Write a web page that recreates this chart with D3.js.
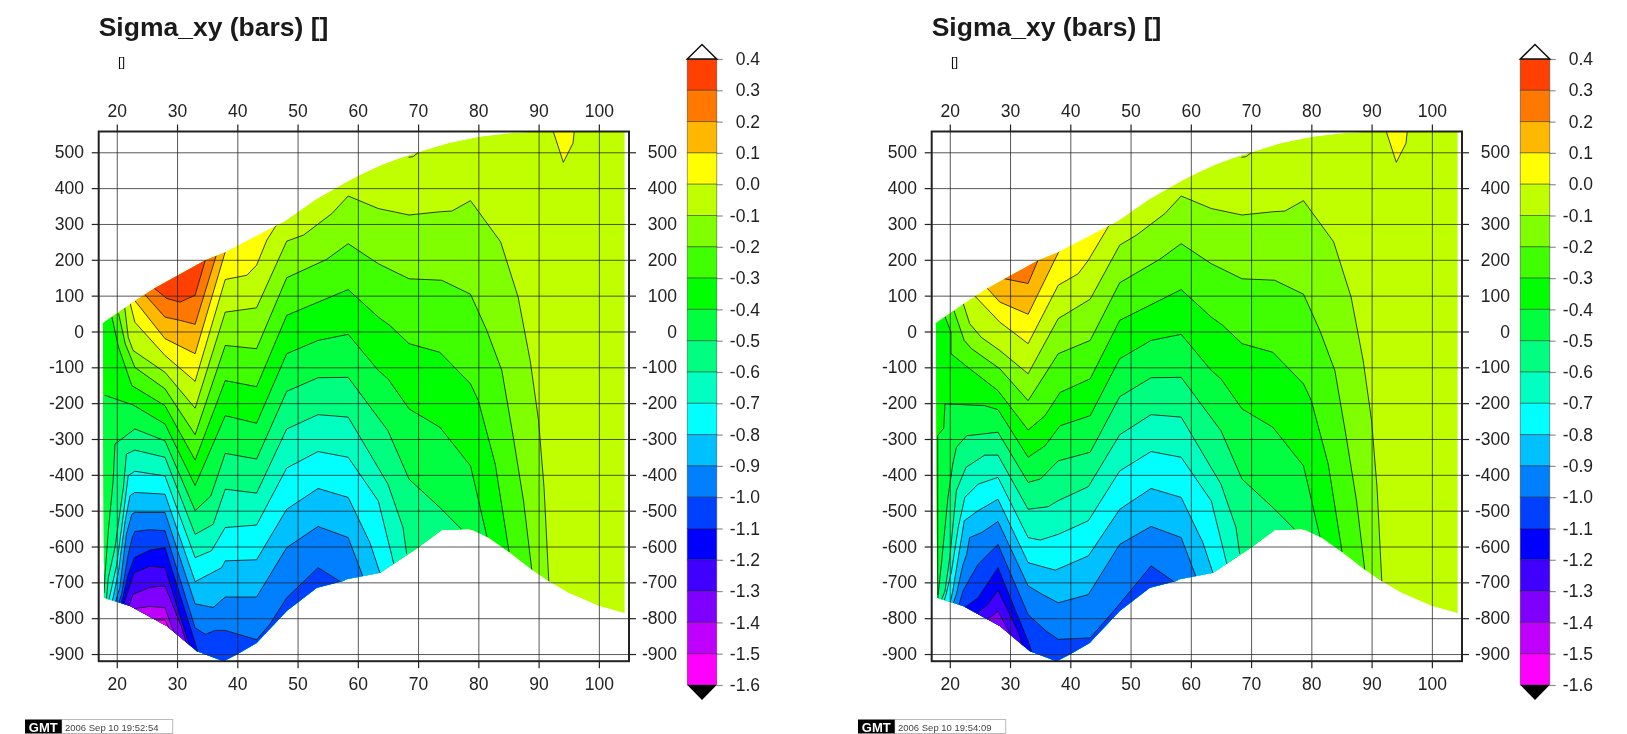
<!DOCTYPE html>
<html>
<head>
<meta charset="utf-8">
<title>Sigma_xy (bars)</title>
<script src="https://cdn.jsdelivr.net/npm/d3@7"></script>
<style>
    html, body { margin: 0; padding: 0; background: #fff; }
    /* the source is a soft, scanned looking image */
    svg { display: block; font-family: "Liberation Sans", Arial, sans-serif; filter: blur(.45px); }
    .axis text { font-size: 17.5px; fill: #222; }
    .axis line { stroke: #222; stroke-width: 1.2px; }
    .axis path { display: none; }
    .grid line { stroke: #222; stroke-width: 1px; stroke-opacity: .75; }
    .grid path { display: none; }
    .contour { fill: none; stroke: #111; stroke-width: 1px; stroke-opacity: .8; stroke-linejoin: round; }
</style>
</head>
<body>
<div id="chart"></div>
<script>
// colour table, top of the bar to the bottom
var barLevels = [0.4, 0.3, 0.2, 0.1, 0.0, -0.1, -0.2, -0.3, -0.4, -0.5, -0.6, -0.7, -0.8, -0.9, -1.0, -1.1, -1.2, -1.3, -1.4, -1.5, -1.6];
var bandColors = ["#ff4000", "#ff7800", "#ffb800", "#ffff00", "#bfff00", "#80ff00", "#40ff00", "#00ff00", "#00ff40", "#00ff80",
    "#00ffc0", "#00ffff", "#00c0ff", "#0080ff", "#0040ff", "#0000ff", "#4000ff", "#8000ff", "#c000ff", "#ff00ff"];

var xTicks = [20, 30, 40, 50, 60, 70, 80, 90, 100];
var yTicks = [500, 400, 300, 200, 100, 0, -100, -200, -300, -400, -500, -600, -700, -800, -900];

// outline of the model, both plots use the same one
var domainEdge = [[17.7, 23], [22.7, 82], [26.2, 120], [34.6, 198], [38.1, 222], [43, 265], [47.9, 308], [53, 368], [56, 397], [58.4, 420], [61, 442], [64, 465], [67, 484], [70, 500],
    [75, 526], [80.3, 544], [85, 553], [90, 558], [104.3, 558], [104.3, -786], [100, -766], [95, -730], [91.6, -696], [88.9, -665], [85, -614], [81.7, -575],
    [79, -553], [78.3, -551], [73.9, -554], [70, -603], [63.7, -673], [58.1, -691], [57.6, -696], [53.2, -715], [48.2, -780], [43.2, -869], [39.9, -901],
    [37.7, -920], [33.3, -892], [28.3, -822], [22.2, -766], [17.9, -743]];

// little yellow patch at the top and the stray tick on the edge
var topPatch = [[92.2, 570], [94.1, 472], [95.7, 525], [96, 570]];
var strayLine = [[68.4, 486], [69.2, 488], [70, 499]];

// right hand ends of the contours, same on both plots
var tailM01 = [[51, 269], [55.7, 329], [58.4, 378], [63.4, 343], [68.5, 325], [73.6, 334], [75.6, 336], [78.7, 365], [83.7, 250], [86.6, 96], [88.6, -81], [90, -249], [90.9, -435], [91.7, -700]];
var tailM02 = [[54.8, 201], [58.4, 245], [63.4, 189], [68.5, 147], [73.9, 143], [78.7, 104], [81.4, 3], [83.9, -109], [85.8, -295], [87.5, -473], [88.9, -670]];
var tailM03 = [[58.4, 117], [63.4, 40], [65.3, 17], [68.5, -34], [73.6, -58], [78.7, -146], [80, -193], [82.8, -370], [85.1, -615]];
var tailM04 = [[53.4, -25], [58.4, -8], [63.4, -109], [65, -132], [68.5, -216], [73.6, -267], [78.7, -375], [81.5, -578]];
var tailM05 = [[53.4, -129], [58.4, -128], [65, -277], [68.5, -412], [73.6, -491], [77.4, -555]];
var tailM06 = [[53.4, -232], [58.4, -239], [65, -426], [67.5, -547], [68.1, -620]];
var tailM07 = [[53.4, -335], [58.4, -351], [63.4, -473], [66, -650]];
var tailM08 = [[53.4, -438], [58.4, -463], [62, -589], [63.8, -680]];
var tailM09 = [[53.4, -544], [58.4, -575], [61.1, -695]];

// left plot
var leftP03 = [[26.2, 121], [28.3, 92], [30.5, 82], [33, 101], [34.8, 205]];
var leftP02 = [[24.6, 104], [28, 40], [30.5, 31], [33, 20], [36.5, 212]];
var leftP01 = [[23, 86], [28, -20], [33, -62], [38.1, 228]];
var leftP00 = [[22.2, 80], [23, 26], [28, -67], [33, -139], [38, 145], [41.6, 157], [43.2, 185], [44.9, 255], [46.9, 308]];
var leftM01 = [[21.3, 70], [21.9, -16], [22.7, -53], [28, -114], [33, -214], [38, 54], [43.2, 66], [48.2, 252]];
var leftM02 = [[20.3, 50], [21.4, -34], [23, -100], [28, -160], [33, -288], [38, -39], [43.2, -48], [48.2, 150]];
var leftM03 = [[19.2, 40], [20.3, -44], [22.5, -151], [28, -207], [33, -359], [38, -137], [43.2, -154], [48.2, 45]];
var leftM04 = [[18, -178], [22.7, -205], [28, -258], [33, -430], [38, -235], [43.2, -256], [48.2, -62]];
var leftM05 = [[17.9, -730], [18.05, -678], [18.6, -556], [19.4, -417], [19.7, -314], [23, -272], [28, -305], [33, -500], [35.6, -459], [38, -340], [43.2, -356], [48.2, -167]];
var leftM06 = [[18.3, -745], [18.6, -687], [19.7, -603], [21.1, -435], [21.6, -342], [23, -331], [28, -351], [33, -566], [36, -538], [38, -440], [43.2, -451], [48.2, -272]];
var leftM07 = [[18.5, -760], [18.9, -733], [20, -650], [21.1, -510], [21.9, -402], [23, -390], [28, -403], [33, -631], [35.7, -612], [38, -547], [43.2, -540], [48.2, -381]];
var leftM08 = [[19, -760], [19.4, -743], [20.3, -668], [21.4, -528], [22.2, -458], [23, -449], [28, -454], [33, -698], [37.4, -659], [38, -640], [43.2, -637], [48.2, -496]];
var leftM09 = [[19.6, -765], [19.8, -754], [20.5, -715], [21.6, -566], [22.5, -510], [23, -505], [28, -505], [33, -760], [36, -770], [38, -741], [43.2, -741], [48.2, -603]];
var leftM10 = [[20.1, -770], [20.3, -759], [20.8, -733], [21.9, -622], [22.6, -573], [23, -558], [25.5, -553], [28, -556], [33, -827], [34.7, -845], [36.3, -834], [38, -834], [43.2, -860],
    [45.4, -817], [48.2, -743], [53.4, -659], [57.8, -705]];
var leftM11 = [[20.6, -770], [20.8, -757], [21.9, -678], [22.9, -631], [25.5, -610], [28, -603], [33, -868], [33.6, -905]];
var leftM12 = [[21, -770], [21.7, -733], [22.9, -673], [25.5, -655], [28, -659], [31.3, -836], [32.3, -885]];
var leftM13 = [[21.8, -775], [22.7, -733], [25.5, -714], [28, -710], [30.8, -827], [31.7, -880]];
var leftM14 = [[22.3, -775], [25.5, -767], [28, -771], [29.7, -850]];
var leftM15 = [[25.8, -805], [28, -805], [29, -840]];

// right plot
var rightP02 = [[28.8, 148], [33, 134], [34.8, 205]];
var rightP01 = [[26.2, 121], [28.3, 82], [33, 48], [38.3, 230]];
var rightP00 = [[24.1, 100], [28.3, 26], [33, -34], [38, 129], [41.3, 161], [43, 199], [47.1, 315]];
var rightM01 = [[22.2, 80], [23.3, 22], [25.2, -16], [28.3, -53], [33, -118], [38, 36], [43.3, 90], [48.2, 241]];
var rightM02 = [[20.7, 58], [22.4, -25], [23.6, -48], [28.3, -104], [33, -193], [38, -62], [43.3, -25], [48.2, 136]];
var rightM03 = [[19.2, 42], [20.2, -2], [20.2, -62], [23, -100], [28, -165], [33, -275], [35.8, -235], [38.3, -170], [43.3, -132], [48.2, 31]];
var rightM04 = [[18, -735], [18, -290], [19, -270], [19.2, -202], [25.8, -207], [28, -218], [33, -351], [35.8, -319], [38.3, -263], [43.3, -235], [48.2, -76]];
var rightM05 = [[18, -745], [18.6, -650], [19.7, -463], [20.5, -370], [21.1, -323], [22.8, -291], [28, -281], [33, -421], [35, -412], [38, -361], [43.3, -337], [48.2, -182]];
var rightM06 = [[18.6, -750], [19.2, -724], [20, -631], [21.1, -444], [22.7, -379], [25.8, -345], [28, -345], [33, -496], [36.3, -489], [38, -472], [43, -433], [48.2, -288]];
var rightM07 = [[19, -755], [19.4, -733], [20.3, -668], [21.4, -547], [22.5, -463], [24.7, -426], [28, -407], [33, -575], [35, -582], [38, -566], [43, -528], [48.2, -389]];
var rightM08 = [[20, -760], [20.5, -724], [21.6, -612], [22.4, -528], [24.7, -500], [28, -468], [33, -645], [37.5, -666], [43, -626], [48.2, -496]];
var rightM09 = [[20.4, -768], [21.1, -733], [22.2, -650], [22.8, -622], [23.3, -575], [25.3, -561], [28, -530], [33, -710], [35.5, -735], [38, -757], [43, -734], [48.2, -594]];
var rightM10 = [[21.3, -775], [22.2, -724], [23.1, -696], [24.7, -650], [28, -594], [33, -790], [36, -836], [38, -859], [43.3, -855], [47.4, -776], [53.4, -654], [57.8, -705]];
var rightM11 = [[22.1, -775], [24.7, -743], [28, -659], [33.2, -873], [33.8, -905]];
var rightM12 = [[24.3, -790], [26.3, -761], [28, -722], [31.3, -836], [32.3, -890]];
var rightM13 = [[25.8, -805], [26.9, -795], [28, -780], [30.2, -850]];

var leftContours = [
    { level: 0.0, pts: leftP00 }, { level: 0.1, pts: leftP01 }, { level: 0.2, pts: leftP02 }, { level: 0.3, pts: leftP03 },
    { level: -0.1, pts: leftM01.concat(tailM01) }, { level: -0.2, pts: leftM02.concat(tailM02) }, { level: -0.3, pts: leftM03.concat(tailM03) },
    { level: -0.4, pts: leftM04.concat(tailM04) }, { level: -0.5, pts: leftM05.concat(tailM05) }, { level: -0.6, pts: leftM06.concat(tailM06) },
    { level: -0.7, pts: leftM07.concat(tailM07) }, { level: -0.8, pts: leftM08.concat(tailM08) }, { level: -0.9, pts: leftM09.concat(tailM09) },
    { level: -1.0, pts: leftM10 }, { level: -1.1, pts: leftM11 }, { level: -1.2, pts: leftM12 }, { level: -1.3, pts: leftM13 },
    { level: -1.4, pts: leftM14 }, { level: -1.5, pts: leftM15 }
];
var rightContours = [
    { level: 0.0, pts: rightP00 }, { level: 0.1, pts: rightP01 }, { level: 0.2, pts: rightP02 },
    { level: -0.1, pts: rightM01.concat(tailM01) }, { level: -0.2, pts: rightM02.concat(tailM02) }, { level: -0.3, pts: rightM03.concat(tailM03) },
    { level: -0.4, pts: rightM04.concat(tailM04) }, { level: -0.5, pts: rightM05.concat(tailM05) }, { level: -0.6, pts: rightM06.concat(tailM06) },
    { level: -0.7, pts: rightM07.concat(tailM07) }, { level: -0.8, pts: rightM08.concat(tailM08) }, { level: -0.9, pts: rightM09.concat(tailM09) },
    { level: -1.0, pts: rightM10 }, { level: -1.1, pts: rightM11 }, { level: -1.2, pts: rightM12 }, { level: -1.3, pts: rightM13 }
];

var svg = d3.select("#chart").append("svg")
    .attr("width", 1627)
    .attr("height", 734);

var frame = { left: 98.7, right: 629, top: 131.5, bottom: 661.2 };

var xScale = d3.scaleLinear().domain([17, 105]).range([frame.left, frame.right]);
var yScale = d3.scaleLinear().domain([558, -920]).range([frame.top, frame.bottom]);
var barScale = d3.scaleLinear().domain([-1.6, 0.4]).range([685, 59]);

var contourLine = d3.line()
    .x(function(d) { return xScale(d[0]); })
    .y(function(d) { return yScale(d[1]); });

function bandIndex(level) {
    // band below this level in the colour table
    return barLevels.findIndex(function(l) { return Math.abs(l - level) < 0.001; });
}

function closedPoints(pts, level) {
    var first = pts[0], last = pts[pts.length - 1];
    if (level >= 0) {
        // warm colours sit above their contour
        return pts.concat([[last[0], 2000], [first[0], 2000]]);
    }
    return pts.concat([[last[0], -2000], [0, -2000], [0, first[1]]]);
}

function drawPlot(id, dx, contours, stamp) {
    var g = svg.append("g").attr("transform", "translate(" + dx + ",0)");

    g.append("clipPath").attr("id", id)
        .append("path").attr("d", contourLine(domainEdge) + "Z");

    var fills = g.append("g").attr("clip-path", "url(#" + id + ")");

    // base colour, -0.1 to 0.0
    fills.append("path")
        .attr("d", contourLine(domainEdge) + "Z")
        .attr("fill", bandColors[bandIndex(0.0)]);

    fills.selectAll(".band")
        .data(contours)
        .enter()
        .append("path")
        .attr("class", "band")
        .attr("fill", function(c) {
            return c.level >= 0 ? bandColors[bandIndex(c.level) - 1] : bandColors[bandIndex(c.level)];
        })
        .attr("d", function(c) { return contourLine(closedPoints(c.pts, c.level)) + "Z"; });

    fills.append("path")
        .attr("d", contourLine(topPatch) + "Z")
        .attr("fill", bandColors[bandIndex(0.1)]);

    fills.selectAll(".contour")
        .data(contours)
        .enter()
        .append("path")
        .attr("class", "contour")
        .attr("d", function(c) { return contourLine(c.pts); });

    fills.append("path").attr("class", "contour").attr("d", contourLine(topPatch));
    g.append("path").attr("class", "contour").attr("d", contourLine(strayLine));

    // grid on top of the colours
    g.append("g").attr("class", "grid")
        .attr("transform", "translate(0," + frame.bottom + ")")
        .call(d3.axisBottom(xScale).tickValues(xTicks).tickSize(frame.top - frame.bottom).tickFormat(""));
    g.append("g").attr("class", "grid")
        .attr("transform", "translate(" + frame.left + ",0)")
        .call(d3.axisLeft(yScale).tickValues(yTicks).tickSize(frame.left - frame.right).tickFormat(""));

    g.append("g").attr("class", "axis")
        .attr("transform", "translate(0," + frame.top + ")")
        .call(d3.axisTop(xScale).tickValues(xTicks).tickSize(7).tickPadding(7.5).tickFormat(String));
    g.append("g").attr("class", "axis")
        .attr("transform", "translate(0," + frame.bottom + ")")
        .call(d3.axisBottom(xScale).tickValues(xTicks).tickSize(7).tickPadding(9).tickFormat(String));
    g.append("g").attr("class", "axis")
        .attr("transform", "translate(" + frame.left + ",0)")
        .call(d3.axisLeft(yScale).tickValues(yTicks).tickSize(7).tickPadding(7.7).tickFormat(String));
    g.append("g").attr("class", "axis")
        .attr("transform", "translate(" + frame.right + ",0)")
        .call(d3.axisRight(yScale).tickValues(yTicks).tickSize(7).tickFormat(String))
        .selectAll("text")
        .attr("text-anchor", "end")
        .attr("x", 48);

    g.append("rect")
        .attr("x", frame.left)
        .attr("y", frame.top)
        .attr("width", frame.right - frame.left)
        .attr("height", frame.bottom - frame.top)
        .attr("fill", "none")
        .attr("stroke", "#222")
        .attr("stroke-width", 2);

    g.append("text")
        .attr("x", frame.left)
        .attr("y", 36)
        .style("font-size", "26.5px")
        .style("font-weight", "bold")
        .attr("fill", "#1a1a1a")
        .text("Sigma_xy (bars) []");

    g.append("text")
        .attr("x", 118)
        .attr("y", 65.5)
        .style("font-size", "13px")
        .attr("fill", "#111")
        .text("[]");

    drawColorBar(g);
    drawStamp(g, stamp);
}

function drawColorBar(g) {
    var barLeft = 687.3, barRight = 716.7;

    g.selectAll(".bar-band")
        .data(bandColors)
        .enter()
        .append("rect")
        .attr("class", "bar-band")
        .attr("x", barLeft)
        .attr("width", barRight - barLeft)
        .attr("y", function(c, i) { return barScale(barLevels[i]); })
        .attr("height", function(c, i) { return barScale(barLevels[i + 1]) - barScale(barLevels[i]); })
        .attr("fill", function(c) { return c; })
        .attr("stroke", "#222")
        .attr("stroke-opacity", .45)
        .attr("stroke-width", 1);

    g.append("g").attr("class", "axis")
        .attr("transform", "translate(" + barRight + ",0)")
        .call(d3.axisRight(barScale).tickValues(barLevels).tickSize(6).tickFormat(function(d) { return d.toFixed(1); }))
        .call(function(a) { a.selectAll("line").style("stroke-opacity", .5); })
        .selectAll("text")
        .attr("text-anchor", "end")
        .attr("x", 760 - barRight);

    var mid = (barLeft + barRight) / 2;
    g.append("path")
        .attr("d", "M" + barLeft + "," + barScale(0.4) + "L" + mid + ",44.5L" + barRight + "," + barScale(0.4) + "Z")
        .attr("fill", "#fff")
        .attr("stroke", "#111")
        .attr("stroke-width", 1.5);
    g.append("path")
        .attr("d", "M" + barLeft + "," + barScale(-1.6) + "L" + mid + ",700L" + barRight + "," + barScale(-1.6) + "Z")
        .attr("fill", "#000");
}

function drawStamp(g, stamp) {
    g.append("rect")
        .attr("x", 61.7).attr("y", 719.5).attr("width", 111).attr("height", 14)
        .attr("fill", "#fff").attr("stroke", "#bbb").attr("stroke-width", 1);
    g.append("rect")
        .attr("x", 25).attr("y", 719.5).attr("width", 36.7).attr("height", 14)
        .attr("fill", "#000");
    g.append("text")
        .attr("x", 43.3).attr("y", 731.5)
        .attr("text-anchor", "middle")
        .style("font-size", "13px").style("font-weight", "bold")
        .attr("fill", "#fff")
        .text("GMT");
    g.append("text")
        .attr("x", 65).attr("y", 730.5)
        .style("font-size", "9.5px")
        .attr("fill", "#444")
        .text(stamp);
}

drawPlot("left-domain", 0, leftContours, "2006 Sep 10 19:52:54");
drawPlot("right-domain", 833, rightContours, "2006 Sep 10 19:54:09");
</script>
</body>
</html>
